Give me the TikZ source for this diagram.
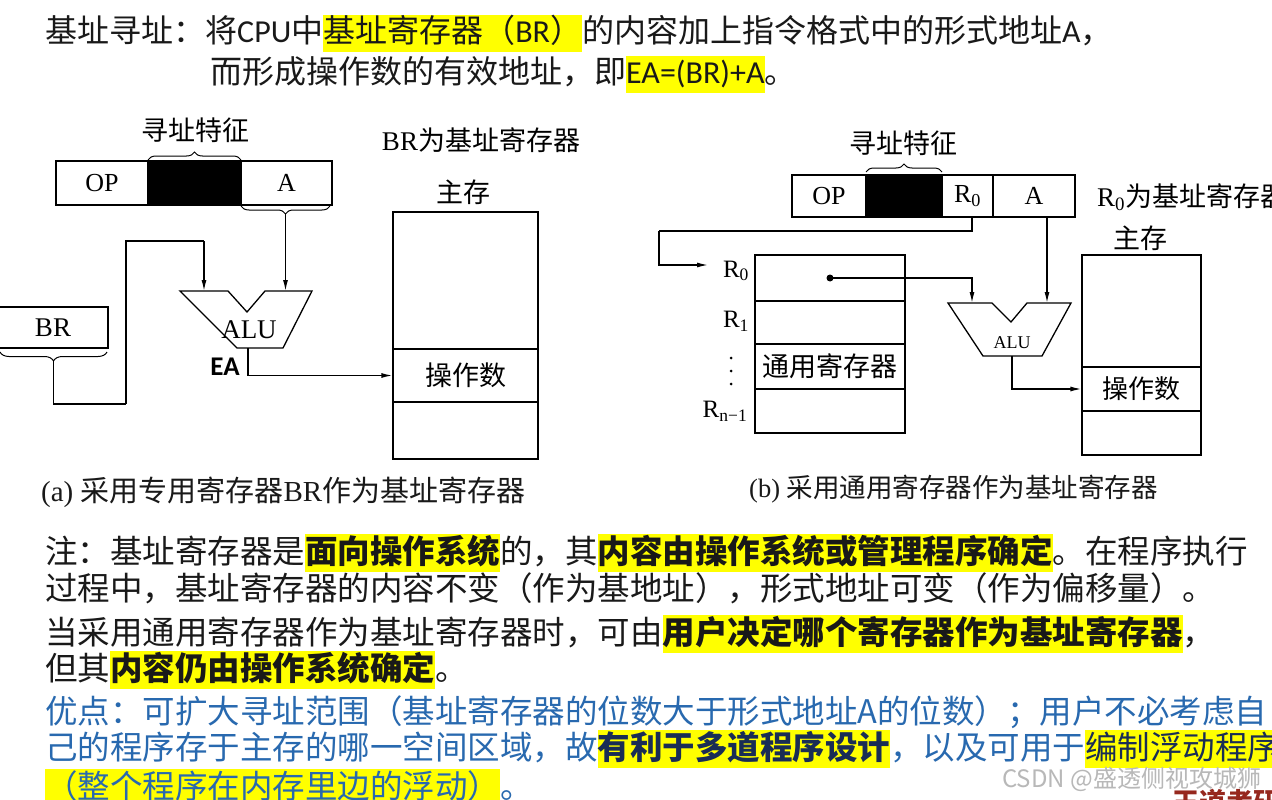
\documentclass[tikz,border=0pt]{standalone}
\usepackage{fontspec}
\setmainfont{Liberation Serif}
\newfontfamily\cjk{Noto Sans CJK SC}
\newfontfamily\carl{Carlito}
\usetikzlibrary{arrows.meta,decorations.pathreplacing}
\definecolor{hly}{RGB}{255,255,0}
\definecolor{blu}{RGB}{40,105,175}
\definecolor{txt}{RGB}{25,25,25}
\definecolor{navy}{RGB}{25,45,85}
\definecolor{wmred}{RGB}{150,40,30}
\newcommand\hlt[1]{{\setlength\fboxsep{0pt}\colorbox{hly}{\rule[-0.28em]{0pt}{1.16em}#1}}}
\newcommand\fs[1]{\fontsize{#1}{#1}\selectfont}
\tikzset{
 wire/.style={line width=1.3pt, draw=black},
 arr/.style={-{Latex[length=11pt,width=5pt]}},
 cell/.style={draw, line width=1.3pt, inner sep=0pt, font=\rmfamily\fs{26}},
 brc/.style={decorate, decoration={brace, amplitude=8pt}, line width=1pt},
 lab/.style={inner sep=0pt, font=\cjk\fs{27}},
 txtline/.style={anchor=base west, inner sep=0pt, font=\cjk\fs{32.5}, text=txt},
}
\begin{document}
\begin{tikzpicture}[x=1pt,y=-1pt]
\fill[white] (0,0) rectangle (1272,800);
\useasboundingbox (0,0) rectangle (1272,800);

% ---------- top text ----------
\node[txtline, font=\cjk\fs{32}] (t1) at (45,43) {基址寻址：将{\carl CPU}中\hlt{基址寄存器（{\carl BR}）}的内容加上指令格式中的形式地址{\carl A}，};
\node[txtline, font=\cjk\fs{32}] (t2) at (210,84) {而形成操作数的有效地址，即\hlt{{\carl EA=(BR)+A}}。};

% ---------- diagram (a) ----------
\node[cell, minimum width=92pt, minimum height=44pt] (aop) at (102,183) {OP};
\node[cell, fill=black, minimum width=93pt, minimum height=44pt] (ablk) at (194.5,183) {};
\node[cell, minimum width=91pt, minimum height=44pt] (aA) at (286.5,183) {A};
\draw[brc] (148,160) -- (241,160);
\node[lab] (afeat) at (195,130) {寻址特征};
\draw[brc] (330,206) -- (241,206);
\coordinate (aAtip) at (285.5,214);

\node[cell, font=\rmfamily\fs{27}, minimum width=110pt, minimum height=41pt] (br) at (53,327.5) {BR};
\draw[brc, decoration={amplitude=9pt}] (107,352) -- (0,352);
\coordinate (brtip) at (53.5,361);

\draw[wire] (180,291) -- (228,291) -- (247,312) -- (265,291) -- (312,291) -- (283,348) -- (237,348) -- cycle;
\node[inner sep=0pt, font=\rmfamily\fs{27}] (alua) at (249,330) {ALU};
\coordinate (aluain1) at (204,291);
\coordinate (aluain2) at (285.5,291);
\coordinate (aluaout) at (248,348);
\coordinate (abend1) at (126,404);
\coordinate (abend2) at (204,241);
\node[inner sep=0pt, font=\carl\bfseries\fs{27}] (ea) at (225,367) {EA};

\node[cell, minimum width=145pt, minimum height=137pt] (amt) at (465.5,280.5) {};
\node[cell, font=\cjk\fs{27}, minimum width=145pt, minimum height=53pt] (amop) at (465.5,375.5) {操作数};
\node[cell, minimum width=145pt, minimum height=57pt] (amb) at (465.5,430.5) {};
\node[lab] (amlab) at (463,192) {主存};
\node[lab] (abrlab) at (481,140) {{\rmfamily BR}为基址寄存器};

\draw[wire, arr] (aAtip) -- (aluain2);
\draw[wire] (brtip) |- (abend1);
\draw[wire] (abend1) |- (abend2);
\draw[wire, arr] (abend2) -- (aluain1);
\draw[wire, arr] (aluaout) |- (amop.west);

\node[anchor=base west, inner sep=0pt, font=\cjk\fs{29}, text=txt] (capa) at (41,501) {{\rmfamily (a) }采用专用寄存器{\rmfamily BR}作为基址寄存器};

% ---------- diagram (b) ----------
\node[cell, minimum width=74pt, minimum height=42pt] (bop) at (829,196) {OP};
\node[cell, fill=black, minimum width=76pt, minimum height=42pt] (bblk) at (904,196) {};
\node[cell, minimum width=51pt, minimum height=42pt] (br0) at (967.5,196) {R\textsubscript{0}};
\node[cell, minimum width=82pt, minimum height=42pt] (bA) at (1034,196) {A};
\draw[brc] (866,172) -- (942,172);
\node[lab] (bfeat) at (903,143) {寻址特征};
\node[anchor=west, inner sep=0pt, font=\cjk\fs{27}] (br0lab) at (1097,197) {{\rmfamily R\textsubscript{0}}为基址寄存器};

\node[cell, minimum width=150pt, minimum height=46pt] (rg0) at (830,278) {};
\node[cell, minimum width=150pt, minimum height=43pt] (rg1) at (830,322.5) {};
\node[cell, font=\cjk\fs{27}, minimum width=150pt, minimum height=45pt] (rg2) at (830,366.5) {通用寄存器};
\node[cell, minimum width=150pt, minimum height=44pt] (rg3) at (830,411) {};
\node[inner sep=0pt, font=\rmfamily\fs{25}] (lr0) at (736,271) {R\textsubscript{0}};
\node[inner sep=0pt, font=\rmfamily\fs{25}] (lr1) at (736,321) {R\textsubscript{1}};
\node[inner sep=0pt, font=\rmfamily\fs{25}] (lrn) at (725,411) {R\textsubscript{n−1}};
\foreach \yy in {358,371,384} \fill (731,\yy) circle (1.5pt);

\coordinate (dot) at (830,278);
\fill (dot) circle (3.5pt);

\draw[wire] (948,303) -- (992,303) -- (1011,322) -- (1027,303) -- (1071,303) -- (1042,356) -- (983,356) -- cycle;
\node[inner sep=0pt, font=\rmfamily\fs{18}] (alub) at (1012,343) {ALU};
\coordinate (alubin1) at (972,303);
\coordinate (alubin2) at (1047,303);
\coordinate (aluBout) at (1012,356);
\coordinate (r0out) at (972,217);
\coordinate (bAout) at (1047,217);
\coordinate (bbend1) at (659,231);
\coordinate (r0in) at (708,265);

\node[cell, minimum width=119pt, minimum height=112pt] (bmt) at (1141.5,311) {};
\node[cell, font=\cjk\fs{26}, minimum width=119pt, minimum height=44pt] (bmop) at (1141.5,389) {操作数};
\node[cell, minimum width=119pt, minimum height=44pt] (bmb) at (1141.5,433) {};
\node[lab] (bmlab) at (1140,238) {主存};

\draw[wire] (r0out) |- (bbend1);
\draw[wire, arr] (bbend1) |- (r0in);
\draw[wire, arr] (dot) -| (alubin1);
\draw[wire, arr] (bAout) -- (alubin2);
\draw[wire, arr] (aluBout) |- (bmop.west);

\node[anchor=base west, inner sep=0pt, font=\cjk\fs{26.5}, text=txt] (capb) at (749,497) {{\rmfamily (b) }采用通用寄存器作为基址寄存器};

% ---------- bottom text ----------
\node[txtline] (l1) at (45,563) {注：基址寄存器是\hlt{\bfseries 面向操作系统}的，其\hlt{\bfseries 内容由操作系统或管理程序确定}。在程序执行};
\node[txtline] (l2) at (45,600) {过程中，基址寄存器的内容不变（作为基地址），形式地址可变（作为偏移量）。};
\node[txtline] (l3) at (45,644) {当采用通用寄存器作为基址寄存器时，可由\hlt{\bfseries 用户决定哪个寄存器作为基址寄存器}，};
\node[txtline] (l4) at (45,680) {但其\hlt{\bfseries 内容仍由操作系统确定}。};
\node[txtline, text=blu] (l5) at (45,723) {优点：可扩大寻址范围（基址寄存器的位数大于形式地址A的位数）；用户不必考虑自};
\node[txtline, text=blu] (l6) at (45,759) {己的程序存于主存的哪一空间区域，故\hlt{\bfseries\color{navy}有利于多道程序设计}，以及可用于\hlt{\color{navy}编制浮动程序}};
\node[txtline, text=blu] (l7) at (45,798) {\hlt{（整个程序在内存里边的浮动）}。};

\node[anchor=base west, inner sep=0pt, font=\cjk\fs{24}, text=black!28] (wm) at (1002,787) {CSDN @盛透侧视攻城狮};
\node[anchor=base west, inner sep=0pt, font=\cjk\bfseries\fs{27}, text=wmred] (wm2) at (1172,812) {王道考研};
\end{tikzpicture}
\end{document}
